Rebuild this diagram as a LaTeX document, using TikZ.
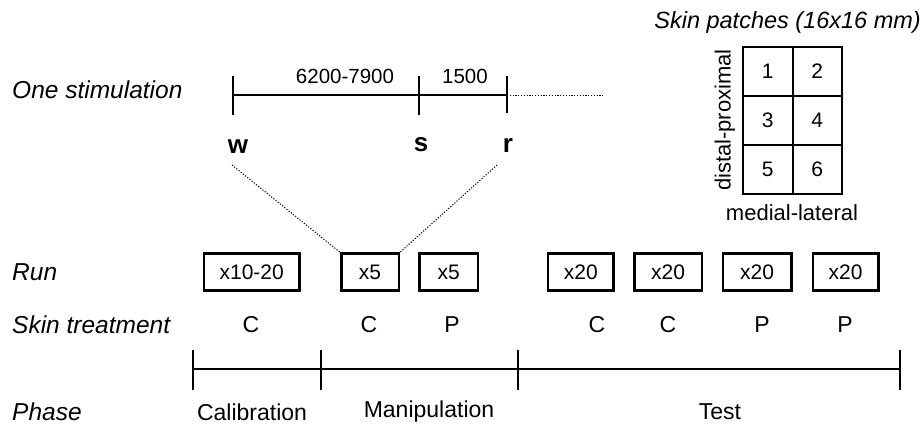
\documentclass[tikz,border=0pt]{standalone}
\usepackage{fontspec}
\setmainfont{Liberation Sans}
\begin{document}
\begin{tikzpicture}[x=1pt,y=-1pt,
  lab/.style={font=\fontsize{24.5}{28}\selectfont\itshape, anchor=west, inner sep=0pt},
  num/.style={font=\fontsize{20.5}{24}\selectfont, inner sep=0pt},
  let/.style={font=\fontsize{26}{30}\selectfont\bfseries, inner sep=0pt},
  trt/.style={font=\fontsize{23}{27}\selectfont, inner sep=0pt},
  runbox/.style={draw, line width=2.5pt, minimum height=37pt, inner sep=0pt, font=\fontsize{21}{25}\selectfont},
  cell/.style={draw, line width=2pt, minimum width=49.5pt, minimum height=49pt, inner sep=0pt, font=\fontsize{21}{25}\selectfont},
  tl/.style={line width=1.8pt},
  dotl/.style={line width=1pt, dash pattern=on 1.2pt off 1.6pt}]
\useasboundingbox (0,0) rectangle (923,432);

% row labels
\node[lab] (l1) at (12,90) {One stimulation};
\node[lab] (l2) at (12,272) {Run};
\node[lab] (l3) at (12,325) {Skin treatment};
\node[lab] (l4) at (12,412) {Phase};

% one stimulation timeline
\coordinate (w0) at (233,95);
\coordinate (s0) at (419,95);
\coordinate (r0) at (507,95);
\coordinate (e0) at (604,95);
\coordinate (wt) at (233,76);  \coordinate (wb) at (233,115);
\coordinate (st) at (419,76);  \coordinate (sb) at (419,115);
\coordinate (rt) at (507,76);  \coordinate (rb) at (507,113);
\draw[tl] (w0) -- (r0);
\draw[tl] (wt) -- (wb);
\draw[tl] (st) -- (sb);
\draw[tl] (rt) -- (rb);
\draw[dotl] (r0) -- (e0);
\node[num] (n1) at (345,76) {6200-7900};
\node[num] (n2) at (465,76) {1500};
\node[let] (w) at (238,147) {w};
\node[let] (s) at (421,145) {s};
\node[let] (r) at (508,145) {r};

% runs
\node[runbox, minimum width=95.5pt] (b1) at (251.7,272) {x10-20};
\node[runbox, minimum width=57.5pt] (b2) at (370,272) {x5};
\node[runbox, minimum width=58.5pt] (b3) at (448.8,272) {x5};
\node[runbox, minimum width=65.5pt] (b4) at (580.8,272) {x20};
\node[runbox, minimum width=67.5pt] (b5) at (668,272) {x20};
\node[runbox, minimum width=68.5pt] (b6) at (757,272) {x20};
\node[runbox, minimum width=65.5pt] (b7) at (845.5,272) {x20};

\coordinate (d1) at (232,165);
\coordinate (d2) at (497,165);
\draw[dotl] (d1) -- (b2.north west);
\draw[dotl] (d2) -- (b2.north east);

% skin treatment
\node[trt] (t1) at (251,325) {C};
\node[trt] (t2) at (369,325) {C};
\node[trt] (t3) at (452,325) {P};
\node[trt] (t4) at (597,325) {C};
\node[trt] (t5) at (668,325) {C};
\node[trt] (t6) at (762,325) {P};
\node[trt] (t7) at (845,325) {P};

% phase timeline
\coordinate (p0) at (193,369);
\coordinate (p1) at (321,369);
\coordinate (p2) at (518,369);
\coordinate (p3) at (900,369);
\draw[tl] (p0) -- (p3);
\foreach \xx in {193,321,518,900} \draw[tl] (\xx,350) -- (\xx,390);
\node[trt] (ph1) at (252,412) {Calibration};
\node[trt] (ph2) at (429,412) {Manipulation};
\node[trt] (ph3) at (720,412) {Test};

% skin patches
\node[lab, font=\fontsize{23.5}{28}\selectfont\itshape, anchor=east] (title) at (921,22) {Skin patches (16x16 mm)};
\node[cell] (c1) at (767.75,71.5) {1};
\node[cell] (c2) at (817.25,71.5) {2};
\node[cell] (c3) at (767.75,120.5) {3};
\node[cell] (c4) at (817.25,120.5) {4};
\node[cell] (c5) at (767.75,169.5) {5};
\node[cell] (c6) at (817.25,169.5) {6};
\node[num, font=\fontsize{22}{26}\selectfont, rotate=90] (dp) at (725,120) {distal-proximal};
\node[num, font=\fontsize{22}{26}\selectfont] (ml) at (792,213) {medial-lateral};
\end{tikzpicture}
\end{document}
